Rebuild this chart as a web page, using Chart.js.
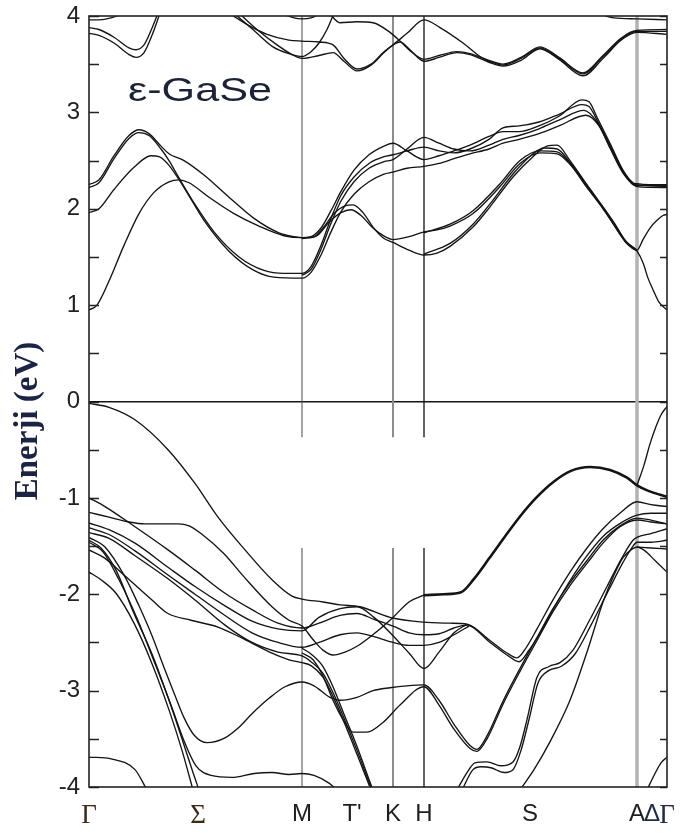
<!DOCTYPE html>
<html>
<head>
<meta charset="utf-8">
<script src="https://cdn.jsdelivr.net/npm/chart.js@4.4.1/dist/chart.umd.min.js"></script>
<style>
  html, body { margin: 0; padding: 0; background: #fff; }
  canvas { display: block; }
</style>
</head>
<body>
<canvas id="c" width="695" height="835"></canvas>
<script>
// Path through the Brillouin zone (k measured along the path)
const kTicks  = [0, 109, 213, 263, 304, 335, 441, 548, 563, 578];
const kLabels = ['Γ', 'Σ', 'M', "T'", 'K', 'H', 'S', 'A', 'Δ', 'Γ'];
// high-symmetry points that get a vertical marker
const kSym    = [213, 304, 335, 548];
const symNames = ['M', 'K', 'H', 'A'];
// energy window where the M, K and H markers are interrupted
const markerGap = [-0.37, -1.52];
const yTicks = [-4, -3, -2, -1, 0, 1, 2, 3, 4];

// ---- conduction bands [k, E(eV)] ----
const cbA = [[0,0.95],[8,1.0],[20,1.25],[35,1.62],[50,1.95],[65,2.17],[80,2.28],[90,2.30],[100,2.27],[120,2.12],[145,1.95],[170,1.82],[195,1.72],[213,1.70],[225,1.71],[234,1.80],[245,1.95],[256,2.03],[264,2.04],[274,1.96],[284,1.81],[294,1.70],[304,1.65],[320,1.57],[335,1.52],[348,1.54],[361,1.61],[384,1.81],[401,2.02],[424,2.33],[444,2.54],[458,2.65],[468,2.66],[481,2.50],[498,2.25],[514,2.02],[526,1.84],[537,1.66],[548,1.56],[554,1.44],[559,1.28],[564,1.16],[570,1.03],[578,0.95]];
const cbC1 = [[0,2.25],[10,2.30],[25,2.55],[40,2.76],[50,2.82],[60,2.78],[72,2.65],[80,2.57],[95,2.50],[115,2.35],[140,2.12],[165,1.90],[190,1.75],[205,1.71],[213,1.70],[222,1.71],[232,1.80],[242,1.98],[252,2.18],[265,2.40],[280,2.56],[295,2.65],[304,2.68],[318,2.60],[335,2.51],[350,2.55],[365,2.60],[381,2.66],[400,2.75],[414,2.80],[430,2.80],[450,2.86],[470,2.96],[493,3.13],[500,3.11],[508,2.95],[521,2.68],[534,2.40],[544,2.27],[548,2.26],[560,2.25],[578,2.25]];
const cbC2 = [[0,2.22],[10,2.27],[25,2.52],[40,2.73],[50,2.79],[60,2.76],[72,2.62],[80,2.50],[90,2.32],[105,2.06],[125,1.76],[150,1.50],[175,1.36],[195,1.33],[213,1.33],[222,1.40],[232,1.62],[242,1.90],[252,2.14],[265,2.33],[280,2.47],[295,2.54],[304,2.56],[318,2.60],[335,2.64],[350,2.60],[365,2.58],[381,2.62],[400,2.72],[414,2.84],[430,2.86],[450,2.90],[470,2.98],[493,3.08],[500,3.06],[508,2.92],[521,2.66],[534,2.39],[544,2.26],[548,2.25],[578,2.23]];
const cbB = [[0,1.96],[10,2.00],[25,2.20],[45,2.43],[62,2.55],[70,2.54],[80,2.45],[95,2.22],[115,1.88],[140,1.56],[165,1.36],[185,1.29],[213,1.28],[222,1.34],[232,1.52],[242,1.76],[252,1.97],[265,2.15],[280,2.28],[295,2.36],[304,2.38],[318,2.42],[335,2.44],[350,2.47],[365,2.52],[381,2.57],[400,2.62],[414,2.68],[430,2.72],[450,2.78],[470,2.86],[497,2.97],[510,2.86],[521,2.63],[534,2.37],[548,2.23],[578,2.22]];
const cbR3 = [[213,1.31],[222,1.37],[232,1.58],[242,1.85],[252,2.08],[265,2.28],[280,2.42],[295,2.49],[304,2.51],[318,2.62],[335,2.74],[350,2.68],[365,2.62],[381,2.60],[400,2.66],[414,2.72],[430,2.76],[450,2.83],[470,2.92],[495,3.02],[508,2.90],[521,2.64],[534,2.38],[548,2.24],[578,2.24]];
const cbT2 = [[213,1.69],[228,1.72],[240,1.86],[252,1.96],[262,1.99],[272,1.93],[284,1.80],[296,1.71],[304,1.68],[320,1.71],[335,1.76],[348,1.78],[361,1.82],[384,1.95],[411,2.23],[431,2.47],[451,2.58],[468,2.57],[481,2.46],[498,2.22],[514,2.00],[526,1.82],[537,1.65],[548,1.57],[554,1.68],[561,1.80],[568,1.88],[574,1.93],[578,1.94]];
const cbL3 = [[335,1.53],[361,1.64],[384,1.84],[401,2.05],[424,2.36],[444,2.57],[455,2.63],[468,2.62],[481,2.48],[498,2.24],[514,2.01],[537,1.65],[548,1.57]];
const cbL4 = [[335,1.75],[361,1.84],[384,1.98],[411,2.26],[431,2.50],[451,2.60],[468,2.59],[481,2.47],[498,2.23],[514,2.01],[537,1.66],[548,1.57]];

const hi1 = [[0,3.96],[10,3.96],[22,3.98],[35,4.03]];
const hi2 = [[0,3.88],[10,3.86],[25,3.78],[40,3.67],[47,3.65],[55,3.70],[62,3.85],[69,4.03]];
const hi3 = [[0,3.82],[10,3.80],[25,3.72],[40,3.60],[47,3.57],[55,3.62],[63,3.80],[71,4.03]];
const hi4 = [[140,4.03],[160,3.90],[178,3.81],[200,3.75],[213,3.74],[230,3.73],[244,3.70],[255,3.56],[268,3.45],[282,3.50],[295,3.63],[304,3.70],[318,3.82],[335,3.96],[351,3.88],[374,3.72],[391,3.58],[400,3.53],[414,3.49],[432,3.56],[451,3.67],[470,3.56],[494,3.40],[514,3.58],[531,3.75],[541,3.82],[548,3.84],[578,3.84]];
const hi5 = [[145,4.03],[165,3.85],[184,3.68],[200,3.61],[213,3.58],[222,3.63],[230,3.72],[238,3.86],[245,4.03]];
const hi6 = [[150,4.03],[168,3.86],[188,3.70],[203,3.60],[213,3.56],[230,3.59],[244,3.62],[255,3.53],[268,3.43],[282,3.49],[295,3.62],[304,3.70],[311,3.73],[321,3.65],[335,3.53],[350,3.57],[368,3.62],[381,3.60],[400,3.52],[414,3.48],[432,3.54],[451,3.66],[470,3.55],[494,3.38],[514,3.56],[531,3.74],[541,3.81],[548,3.83],[578,3.81]];
const hi7 = [[192,4.03],[205,3.98],[213,3.97],[222,3.98],[232,4.03]];
const hi8 = [[240,4.03],[251,3.93],[268,3.94],[284,3.93],[301,3.83],[311,3.74],[321,3.64],[335,3.55],[350,3.59],[368,3.63],[381,3.61],[400,3.54],[414,3.50],[432,3.57],[451,3.68],[470,3.57],[494,3.41],[514,3.59],[531,3.76],[541,3.83],[548,3.85],[578,3.86]];
const hi9 = [[508,4.03],[525,3.98],[548,3.97],[578,3.96]];

// ---- valence bands [k, E(eV)] ----
const vb1 = [[0,-0.02],[20,-0.06],[46,-0.19],[79,-0.50],[106,-0.85],[129,-1.20],[156,-1.54],[183,-1.85],[203,-2.02],[213,-2.05],[234,-2.08],[251,-2.11],[271,-2.13],[301,-2.24],[334,-2.29],[361,-2.30],[378,-2.31],[401,-2.48],[418,-2.61],[428,-2.66],[438,-2.54],[448,-2.36],[465,-2.04],[481,-1.77],[498,-1.52],[514,-1.32],[532,-1.15],[548,-1.04],[562,-1.07],[578,-1.09]];
const vb2 = [[0,-1.15],[20,-1.20],[40,-1.25],[56,-1.27],[89,-1.27],[100,-1.29],[112,-1.37],[135,-1.58],[155,-1.82],[183,-2.13],[200,-2.27],[213,-2.33],[224,-2.47],[234,-2.58],[244,-2.63],[256,-2.60],[268,-2.54],[285,-2.41],[304,-2.24],[320,-2.08],[335,-2.01]];
const vPeak = [[335,-2.01],[355,-2.00],[372,-1.98],[385,-1.84],[400,-1.63],[416,-1.40],[432,-1.18],[448,-0.99],[465,-0.83],[482,-0.72],[501,-0.68],[521,-0.71],[538,-0.79],[548,-0.87],[560,-0.93],[578,-0.99]];
const vRise = [[548,-0.87],[555,-0.66],[561,-0.44],[567,-0.26],[572,-0.14],[578,-0.05]];
const vb3 = [[0,-1.00],[16,-1.09],[46,-1.30],[79,-1.54],[106,-1.75],[136,-1.99],[163,-2.16],[189,-2.30],[213,-2.35],[230,-2.30],[251,-2.22],[268,-2.20],[285,-2.26],[304,-2.33],[320,-2.40],[335,-2.42],[350,-2.41],[365,-2.35],[378,-2.32],[401,-2.50],[418,-2.63],[430,-2.70],[440,-2.58],[450,-2.42],[465,-2.14],[481,-1.86],[498,-1.60],[514,-1.40],[532,-1.26],[548,-1.18],[562,-1.16],[578,-1.16]];
const vb4 = [[0,-1.26],[20,-1.33],[46,-1.47],[79,-1.72],[106,-1.92],[136,-2.12],[163,-2.28],[189,-2.36],[213,-2.38],[230,-2.24],[251,-2.15],[268,-2.13],[285,-2.24],[304,-2.43],[320,-2.61],[335,-2.77],[350,-2.60],[365,-2.40],[378,-2.31]];
const vb5 = [[0,-1.31],[20,-1.38],[46,-1.55],[79,-1.80],[106,-2.00],[136,-2.22],[163,-2.40],[189,-2.50],[213,-2.55],[230,-2.50],[251,-2.42],[268,-2.40],[285,-2.44],[304,-2.50],[320,-2.53],[335,-2.53],[350,-2.50],[365,-2.42],[380,-2.33]];
const vb6 = [[0,-1.36],[20,-1.42],[46,-1.60],[79,-1.84],[106,-2.06],[136,-2.32],[163,-2.50],[189,-2.60],[213,-2.64],[222,-2.70],[234,-2.82],[244,-3.02],[254,-3.26],[268,-3.62],[280,-3.95],[283,-4.03]];
const vb7 = [[0,-1.54],[15,-1.62],[35,-1.80],[63,-2.06],[79,-2.20],[102,-2.27],[129,-2.34],[156,-2.47],[183,-2.61],[200,-2.68],[213,-2.71],[222,-2.74],[234,-2.86],[244,-3.06],[254,-3.30],[268,-3.66],[282,-4.03]];
const vSteepM = [[213,-2.56],[222,-2.62],[234,-2.75],[244,-2.96],[254,-3.22],[268,-3.58],[281,-3.95],[284,-4.03]];
const vDipT = [[213,-2.61],[224,-2.68],[234,-2.85],[244,-3.10],[254,-3.30],[264,-3.43],[278,-3.43],[294,-3.33],[311,-3.15],[335,-2.96],[350,-3.15],[365,-3.40],[381,-3.60],[388,-3.63],[398,-3.50],[414,-3.14],[431,-2.80],[448,-2.48],[464,-2.18],[481,-1.91],[498,-1.68],[514,-1.47],[531,-1.30],[548,-1.23],[562,-1.25],[578,-1.27]];
const vsA = [[0,-1.77],[12,-1.85],[27,-1.99],[45,-2.30],[63,-2.72],[80,-3.20],[93,-3.62],[104,-4.03]];
const vsB = [[0,-1.46],[14,-1.56],[30,-1.85],[48,-2.25],[66,-2.72],[82,-3.15],[95,-3.52],[107,-3.78],[122,-3.88],[143,-3.90],[165,-3.86],[183,-3.85],[200,-3.87],[213,-3.86],[225,-3.88],[240,-3.96],[248,-4.03]];
const vsC = [[0,-1.41],[16,-1.51],[36,-1.82],[50,-2.12],[63,-2.43],[75,-2.76],[86,-3.05],[95,-3.28],[105,-3.46],[118,-3.54],[136,-3.49],[150,-3.38],[163,-3.24],[180,-3.08],[196,-2.96],[213,-2.91],[225,-2.95],[241,-3.07],[251,-3.10],[268,-3.07],[284,-3.00],[301,-2.97],[318,-2.95],[335,-2.94],[350,-3.10],[365,-3.35],[381,-3.57],[388,-3.61],[398,-3.47],[414,-3.11],[431,-2.77],[448,-2.45],[464,-2.15],[481,-1.88],[498,-1.65],[514,-1.44],[531,-1.29],[548,-1.21],[562,-1.23],[578,-1.27]];
const vsD = [[0,-1.44],[12,-1.52],[27,-1.75],[45,-2.20],[63,-2.62],[80,-3.10],[93,-3.50],[104,-3.85],[110,-4.03]];
const vS3 = [[368,-4.03],[378,-3.85],[386,-3.75],[398,-3.74],[412,-3.78],[424,-3.74],[431,-3.58],[438,-3.30],[448,-2.86],[460,-2.75],[471,-2.71],[484,-2.58],[500,-2.28],[518,-1.92],[532,-1.64],[544,-1.44],[548,-1.41],[562,-1.37],[578,-1.32]];
const vS3b = [[373,-4.03],[384,-3.82],[392,-3.79],[402,-3.80],[415,-3.85],[424,-3.82],[432,-3.62],[440,-3.30],[449,-2.92],[460,-2.79],[472,-2.75],[486,-2.62],[502,-2.32],[520,-1.95],[534,-1.67],[544,-1.50],[548,-1.46],[562,-1.46],[578,-1.44]];
const vS4 = [[431,-4.03],[445,-3.82],[460,-3.55],[481,-3.10],[498,-2.60],[514,-2.08],[525,-1.80],[534,-1.62],[542,-1.54],[548,-1.51],[556,-1.55],[566,-1.65],[578,-1.77]];
const vS4b = [[548,-1.51],[562,-1.52],[578,-1.53]];
const vLowL = [[0,-3.69],[23,-3.71],[46,-3.82],[58,-4.03]];
const vLowR = [[558,-4.03],[566,-3.86],[572,-3.75],[578,-3.69]];

const bands = [cbA, cbC1, cbC2, cbB, cbR3, cbT2, cbL3, cbL4,
  hi1, hi2, hi3, hi4, hi5, hi6, hi7, hi8, hi9,
  vb1, vb2, vPeak, vRise, vb3, vb4, vb5, vb6, vb7, vSteepM, vDipT,
  vsA, vsB, vsC, vsD, vS3, vS3b, vS4, vS4b, vLowL, vLowR];
const heavyBands = [vPeak];

const markerStyle = {
  M: { color: '#5a5a5a', width: 1.1 },
  K: { color: '#8c8c8c', width: 2 },
  H: { color: '#111111', width: 1.3 },
  A: { color: '#b3b3b3', width: 3.5 }
};

const datasets = [];
bands.forEach(b => {
  datasets.push({
    data: b.map(([x, y]) => ({ x, y })),
    showLine: true, pointRadius: 0, fill: false,
    borderColor: '#141414',
    borderWidth: heavyBands.includes(b) ? 2.6 : 1.35,
    cubicInterpolationMode: 'monotone',
    order: 0
  });
});
kSym.forEach((k, i) => {
  const name = symNames[i];
  const pts = name === 'A'
    ? [{ x: k, y: 4 }, { x: k, y: -4 }]
    : [{ x: k, y: 4 }, { x: k, y: markerGap[0] }, { x: k, y: null }, { x: k, y: markerGap[1] }, { x: k, y: -4 }];
  datasets.push({
    data: pts, showLine: true, pointRadius: 0, fill: false, spanGaps: false,
    borderColor: markerStyle[name].color, borderWidth: markerStyle[name].width,
    tension: 0, order: 1
  });
});

const serifLabels = [0, 1, 9];
const frame = {
  id: 'frame',
  afterDatasetsDraw(chart) {
    const { ctx, chartArea: a, scales: { y } } = chart;
    ctx.save();
    ctx.strokeStyle = '#222';
    ctx.lineWidth = 1.4;
    y.ticks.forEach(t => {
      const py = Math.round(y.getPixelForValue(t.value)) + 0.5;
      ctx.beginPath();
      ctx.moveTo(a.left, py); ctx.lineTo(a.left + 10, py);
      ctx.moveTo(a.right, py); ctx.lineTo(a.right - 7, py);
      ctx.stroke();
    });
    ctx.lineWidth = 1.6;
    ctx.strokeRect(a.left, a.top, a.right - a.left, a.bottom - a.top);
    ctx.restore();
  },
  afterDraw(chart) {
    const { ctx, scales: { x, y } } = chart;
    ctx.save();
    // material name
    const name = 'ε-GaSe';
    ctx.font = '33px "Liberation Sans", Arial, sans-serif';
    ctx.fillStyle = '#1b2236';
    ctx.textBaseline = 'alphabetic';
    const w = ctx.measureText(name).width;
    ctx.translate(x.getPixelForValue(39), y.getPixelForValue(3.12));
    ctx.scale(144 / w, 1);
    ctx.fillText(name, 0, 0);
    ctx.restore();
    // axis title
    ctx.save();
    ctx.translate(28, 421);
    ctx.rotate(-Math.PI / 2);
    ctx.font = 'bold 33px "Liberation Serif", "Times New Roman", serif';
    ctx.fillStyle = '#1c2444';
    ctx.textAlign = 'center';
    ctx.textBaseline = 'middle';
    ctx.fillText('Enerji (eV)', 0, 0);
    ctx.restore();
  }
};

new Chart(document.getElementById('c'), {
  type: 'scatter',
  data: { datasets },
  options: {
    responsive: false,
    animation: false,
    events: [],
    layout: { padding: { top: 16, right: 28, left: 0, bottom: 0 } },
    plugins: { legend: { display: false }, tooltip: { enabled: false } },
    scales: {
      x: {
        type: 'linear', min: 0, max: 578,
        afterBuildTicks: s => { s.ticks = kTicks.map(v => ({ value: v })); },
        afterFit: s => { s.height = 48; s.paddingLeft = 0; s.paddingRight = 0; },
        grid: { display: false },
        border: { display: false },
        ticks: {
          autoSkip: false, maxRotation: 0, minRotation: 0, padding: 5,
          callback: (v, i) => kLabels[i],
          font: c => serifLabels.includes(c.index)
            ? { family: '"Liberation Serif", "Times New Roman", serif', size: 27 }
            : { family: '"Liberation Sans", Arial, sans-serif', size: 24 },
          color: c => (c.index <= 1 ? '#3d2b17' : (c.index >= 8 ? '#1e2a4a' : '#1e1e1e'))
        }
      },
      y: {
        min: -4, max: 4,
        afterBuildTicks: s => {
          const t = [];
          for (let v = -4; v <= 4.001; v += 0.5) t.push({ value: Math.round(v * 2) / 2 });
          s.ticks = t;
        },
        afterFit: s => { s.width = 89; s.paddingTop = 0; s.paddingBottom = 0; },
        border: { display: false },
        grid: {
          drawTicks: false,
          color: c => (c.tick && c.tick.value === 0 ? '#151515' : 'rgba(0,0,0,0)'),
          lineWidth: c => (c.tick && c.tick.value === 0 ? 1.6 : 0)
        },
        ticks: {
          padding: 9,
          autoSkip: false,
          callback: v => (yTicks.includes(v) ? String(v) : ''),
          font: { family: '"Liberation Sans", Arial, sans-serif', size: 24 },
          color: '#222'
        }
      }
    }
  },
  plugins: [frame]
});
</script>
</body>
</html>
